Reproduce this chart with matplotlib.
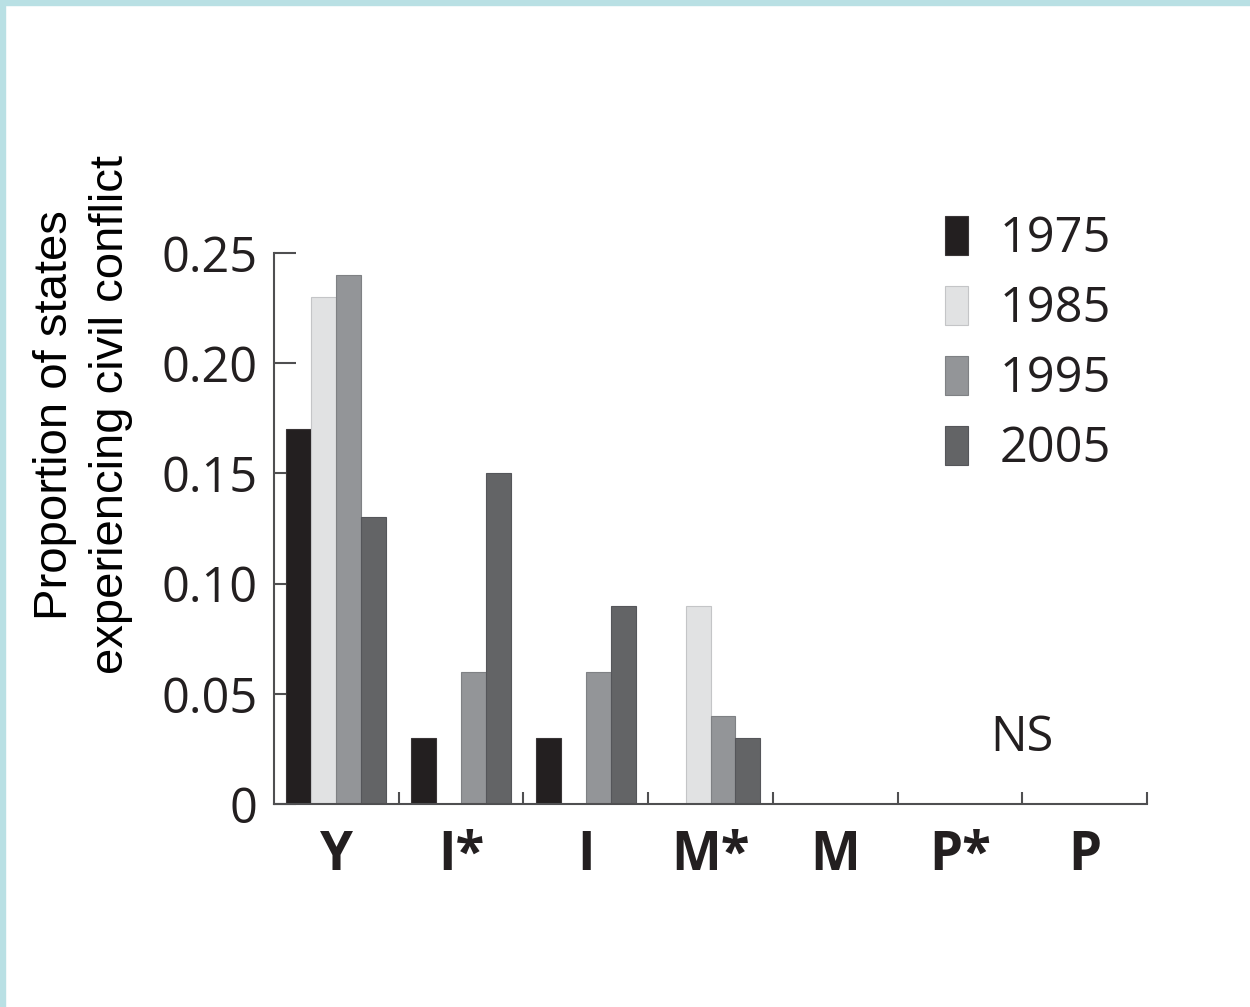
import numpy as np
import matplotlib
matplotlib.use("Agg")
import matplotlib.pyplot as plt
from matplotlib.patches import Rectangle

# Data
groups = ["Y", "I*", "I", "M*", "M", "P*", "P"]
years = ["1975", "1985", "1995", "2005"]
v1975 = [0.17, 0.03, 0.03, 0.00, 0.0, 0.0, 0.0]
v1985 = [0.23, 0.00, 0.00, 0.09, 0.0, 0.0, 0.0]
v1995 = [0.24, 0.06, 0.06, 0.04, 0.0, 0.0, 0.0]
v2005 = [0.13, 0.15, 0.09, 0.03, 0.0, 0.0, 0.0]
yticks = [0, 0.05, 0.10, 0.15, 0.20, 0.25]
ytick_labels = ["0", "0.05", "0.10", "0.15", "0.20", "0.25"]

fills = ["#231f20", "#e1e2e3", "#939598", "#636466"]
edges = ["#3a3637", "#c4c5c7", "#7f8184", "#55565a"]
txt = "#231f20"
axcol = "#4f4f51"

fig = plt.figure(figsize=(12.5, 10.07), dpi=100)
fig.patch.set_facecolor("white")
# light blue frame strips at top and left
fig.patches.append(Rectangle((0, 1 - 5/1007), 1, 5/1007, transform=fig.transFigure,
                             color="#b9e0e4", zorder=0))
fig.patches.append(Rectangle((0, 0), 5/1250, 1, transform=fig.transFigure,
                             color="#b9e0e4", zorder=0))

ax = fig.add_axes([274/1250, 203/1007, 873/1250, 551/1007])

x = np.arange(len(groups))
width = 0.2
series = [v1975, v1985, v1995, v2005]
for i, vals in enumerate(series):
	ax.bar(x + (i - 1.5) * width, vals, width, color=fills[i], edgecolor=edges[i],
	       linewidth=0.8, label=years[i], zorder=2)

ax.set_xlim(-0.5, len(groups) - 0.5)
ax.set_ylim(0, 0.25)

for s in ["top", "right"]:
	ax.spines[s].set_visible(False)
for s in ["left", "bottom"]:
	ax.spines[s].set_color(axcol)
	ax.spines[s].set_linewidth(1.5)
	ax.spines[s].set_zorder(3)

ax.set_yticks(yticks)
ax.set_yticklabels(ytick_labels, fontfamily="Open Sans", fontsize=35, color=txt)
ax.tick_params(axis="y", direction="in", length=16, width=1.5, color=axcol, pad=12)

ax.set_xticks(x)
ax.set_xticklabels(groups, fontfamily="Open Sans", fontweight="bold", fontsize=38, color=txt)
ax.set_xticks(np.arange(len(groups)) + 0.5, minor=True)
ax.tick_params(axis="x", which="major", length=0, pad=18)
ax.tick_params(axis="x", which="minor", direction="in", length=9, width=1.5, color=axcol)

ax.text(5.5, 0.03, "NS", fontfamily="Open Sans", fontsize=35, color=txt,
        ha="center", va="center")

leg = ax.legend(loc="upper left", bbox_to_anchor=(945/1250, 1 - 215/1007),
                bbox_transform=fig.transFigure, frameon=False, borderpad=0,
                borderaxespad=0, handlelength=0.48, handleheight=0.85,
                handletextpad=0.65, labelspacing=0.42,
                prop={"family": "Open Sans", "size": 35})
for t in leg.get_texts():
	t.set_color(txt)

fig.text(83/1250, 1 - 415/1007, "Proportion of states\nexperiencing civil conflict",
         rotation=90, ha="center", va="center", multialignment="center",
         fontfamily="Liberation Sans", fontsize=34, linespacing=1.35, color="black")

fig.savefig("out.png", dpi=100, facecolor="white")
